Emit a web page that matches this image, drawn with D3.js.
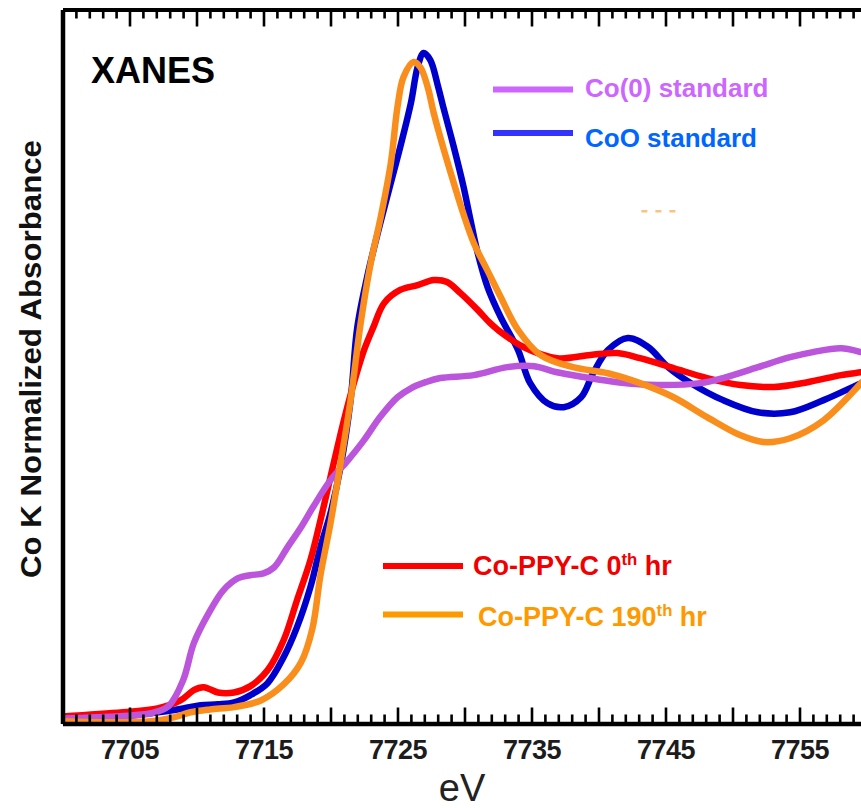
<!DOCTYPE html>
<html>
<head>
<meta charset="utf-8">
<script src="https://cdn.jsdelivr.net/npm/d3@7"></script>
<style>
  html, body { margin: 0; padding: 0; background: #fff; }
  svg { display: block; }
  text { font-family: "Liberation Sans", Arial, Helvetica, sans-serif; }
</style>
</head>
<body>
<svg id="chart" width="861" height="808"></svg>
<script>
// Co K-edge XANES spectra: [energy (eV), normalized absorbance]
const co0Standard = [
  [7700.0,0.006],[7704.3,0.013],[7706.6,0.022],[7707.9,0.044],[7709.0,0.125],[7709.8,0.241],
  [7710.9,0.334],[7712.0,0.406],[7713.1,0.444],[7714.0,0.453],[7715.0,0.459],[7715.8,0.478],
  [7716.8,0.541],[7717.8,0.603],[7718.7,0.666],[7720.0,0.750],[7721.3,0.812],[7722.5,0.875],
  [7723.7,0.947],[7725.0,1.009],[7726.0,1.037],[7727.1,1.056],[7728.2,1.069],[7730.7,1.078],
  [7733.2,1.103],[7735.2,1.106],[7736.9,1.087],[7738.9,1.072],[7741.4,1.056],[7744.4,1.047],
  [7747.6,1.053],[7749.3,1.069],[7751.9,1.103],[7754.3,1.134],[7756.0,1.150],[7758.1,1.162],
  [7759.6,1.150],[7760.0,1.146]
];
const cooStandard = [
  [7700.0,0.006],[7704.3,0.012],[7706.6,0.022],[7709.0,0.037],[7710.3,0.047],[7711.6,0.050],
  [7712.8,0.056],[7714.0,0.078],[7715.3,0.116],[7716.5,0.197],[7717.5,0.291],[7718.5,0.416],
  [7719.25,0.541],[7720.0,0.647],[7720.75,0.791],[7721.5,1.000],[7722.0,1.228],[7722.8,1.397],
  [7723.7,1.550],[7724.5,1.678],[7725.2,1.790],[7726.0,1.928],[7726.5,2.040],[7726.95,2.084],
  [7727.45,2.062],[7728.0,1.984],[7728.43,1.913],[7729.18,1.794],[7729.93,1.666],[7730.45,1.562],
  [7730.97,1.462],[7731.72,1.353],[7732.7,1.259],[7734.0,1.156],[7734.9,1.053],[7736.2,0.990],
  [7737.4,0.978],[7738.7,1.009],[7739.6,1.084],[7740.7,1.156],[7742.2,1.194],[7743.7,1.166],
  [7745.2,1.103],[7746.9,1.053],[7749.3,1.000],[7751.9,0.962],[7754.3,0.962],[7756.8,1.000],
  [7759.6,1.053],[7760.0,1.060]
];
const ppyc0hr = [
  [7700.0,0.012],[7704.5,0.025],[7707.1,0.037],[7708.8,0.062],[7709.8,0.094],[7710.5,0.103],
  [7711.0,0.097],[7711.6,0.087],[7712.8,0.087],[7714.0,0.106],[7715.3,0.156],[7716.5,0.250],
  [7717.5,0.375],[7718.5,0.500],[7719.25,0.625],[7720.0,0.760],[7721.0,0.937],[7721.7,1.047],
  [7722.5,1.156],[7723.2,1.228],[7724.0,1.303],[7725.2,1.344],[7726.5,1.359],[7727.7,1.375],
  [7728.7,1.369],[7729.7,1.334],[7731.0,1.281],[7731.9,1.241],[7732.5,1.219],[7734.4,1.166],
  [7736.9,1.131],[7739.4,1.141],[7741.4,1.147],[7743.1,1.131],[7745.6,1.100],[7748.1,1.069],
  [7750.6,1.047],[7753.1,1.041],[7755.6,1.056],[7758.1,1.078],[7759.6,1.087],[7760.0,1.090]
];
const ppyc190hr = [
  [7700.0,-0.003],[7703.4,-0.006],[7706.6,-0.003],[7708.3,0.009],[7709.55,0.025],[7711.0,0.034],
  [7712.8,0.041],[7714.8,0.062],[7716.5,0.112],[7717.8,0.181],[7718.65,0.287],[7719.25,0.453],
  [7720.0,0.616],[7720.75,0.803],[7721.5,1.000],[7722.25,1.240],[7723.0,1.428],[7723.7,1.562],
  [7724.5,1.740],[7725.0,1.916],[7725.45,2.009],[7726.2,2.056],[7726.7,2.040],[7727.25,1.978],
  [7727.7,1.897],[7728.4,1.790],[7729.2,1.678],[7729.9,1.584],[7730.7,1.490],[7731.7,1.406],
  [7732.7,1.322],[7734.0,1.219],[7735.7,1.140],[7738.1,1.103],[7740.7,1.084],[7743.1,1.053],
  [7745.6,1.009],[7748.1,0.947],[7750.6,0.890],[7752.3,0.869],[7754.3,0.881],[7756.8,0.937],
  [7759.6,1.053],[7760.0,1.070]
];
// faint dashed trace segment in the upper-right area
const faintTrace = [[7743.2,1.59],[7746.0,1.59]];

// axis ticks
const xMajorTicks = [7700,7705,7710,7715,7720,7725,7730,7735,7740,7745,7750,7755,7760];
const xLabelTicks = [7705,7715,7725,7735,7745,7755];
const xMinorTicks = d3.range(7700, 7761).filter(v => v % 5 !== 0);

const seriesNames = ["Co(0) standard", "CoO standard", "Co-PPY-C 0th hr", "Co-PPY-C 190th hr"];

const svg = d3.select("#chart");
svg.append("rect").attr("width", 861).attr("height", 808).attr("fill", "#fff");

const plotLeft = 62.5, plotTop = 9.5, plotBottom = 723.5;
const x = d3.scaleLinear().domain([7700, 7760]).range([plotLeft, plotLeft + 60 * 13.4]);
const y = d3.scaleLinear().domain([-0.01, 2.22]).range([plotBottom, plotTop]);

const spectrumLine = d3.line()
  .x(d => x(d[0]))
  .y(d => y(d[1]))
  .curve(d3.curveCatmullRom.alpha(0.5));

const plot = svg.append("g");

const curves = [
  { data: cooStandard, color: "#0000CC", width: 6.5 },
  { data: ppyc0hr,     color: "#FF0000", width: 6.5 },
  { data: co0Standard, color: "#BB55DB", width: 6.5 },
  { data: ppyc190hr,   color: "#F98E1D", width: 6.5 }
];
curves.forEach(c => {
  plot.append("path")
    .attr("d", spectrumLine(c.data))
    .attr("fill", "none")
    .attr("stroke", c.color)
    .attr("stroke-width", c.width)
    .attr("stroke-linejoin", "round")
    .attr("stroke-linecap", "butt");
});

plot.append("path")
  .attr("d", d3.line().x(d => x(d[0])).y(d => y(d[1]))(faintTrace))
  .attr("fill", "none")
  .attr("stroke", "#F4C585")
  .attr("stroke-width", 2.5)
  .attr("stroke-dasharray", "6,8");

// axes: domain lines and tick labels
function styleAxis(g, width) {
  g.select(".domain").attr("stroke", "#000").attr("stroke-width", width);
}

const xBottom = svg.append("g")
  .attr("transform", `translate(0,${plotBottom})`)
  .call(d3.axisBottom(x).tickValues(xLabelTicks).tickSize(0).tickPadding(16)
    .tickFormat(d3.format("d")));
styleAxis(xBottom, 4.5);
xBottom.selectAll(".tick text")
  .attr("font-size", 27).attr("font-weight", "bold").attr("fill", "#1c1c1c")
  .attr("letter-spacing", -0.5)
  .style("font-family", "'Liberation Sans', Arial, sans-serif");

const xTop = svg.append("g")
  .attr("transform", `translate(0,${plotTop})`)
  .call(d3.axisTop(x).tickValues([]).tickSizeOuter(0));
styleAxis(xTop, 4);

const yLeft = svg.append("g")
  .attr("transform", `translate(${plotLeft},0)`)
  .call(d3.axisLeft(y).tickValues([]).tickSizeOuter(0));
styleAxis(yLeft, 4.5);

// axis titles
svg.append("text")
  .attr("x", 462).attr("y", 801)
  .attr("text-anchor", "middle")
  .attr("font-size", 38)
  .attr("fill", "#222")
  .text("eV");

svg.append("text")
  .attr("transform", "translate(41,359) rotate(-90)")
  .attr("text-anchor", "middle")
  .attr("font-size", 30)
  .attr("font-weight", "bold")
  .attr("fill", "#111")
  .attr("textLength", 438)
  .attr("lengthAdjust", "spacingAndGlyphs")
  .text("Co K Normalized Absorbance");

svg.append("text")
  .attr("x", 91).attr("y", 83)
  .attr("font-size", 36)
  .attr("font-weight", "bold")
  .attr("fill", "#000")
  .text("XANES");

// legends
const legendItems = [
  { name: seriesNames[0], lineColor: "#CC66FF", textColor: "#CC66FF", x1: 493, x2: 573, ly: 89.5, tx: 585, ty: 97, size: 26 },
  { name: seriesNames[1], lineColor: "#3333FF", textColor: "#0066FF", x1: 493, x2: 573, ly: 133, tx: 585, ty: 147, size: 26 },
  { name: seriesNames[2], lineColor: "#FF0000", textColor: "#F00000", x1: 383, x2: 463, ly: 566, tx: 473, ty: 575, size: 27 },
  { name: seriesNames[3], lineColor: "#FF9900", textColor: "#FF9900", x1: 383, x2: 463, ly: 614.5, tx: 478, ty: 626, size: 27 }
];
const legend = svg.append("g");
legendItems.forEach(it => {
  legend.append("line")
    .attr("x1", it.x1).attr("x2", it.x2)
    .attr("y1", it.ly).attr("y2", it.ly)
    .attr("stroke", it.lineColor).attr("stroke-width", 6);
  const t = legend.append("text")
    .attr("x", it.tx).attr("y", it.ty)
    .attr("font-size", it.size)
    .attr("font-weight", "bold")
    .attr("fill", it.textColor);
  const m = it.name.match(/^(.*\d)(th)( hr)$/);
  if (m) {
    t.append("tspan").text(m[1]);
    t.append("tspan").attr("font-size", it.size * 0.62).attr("dy", -it.size * 0.38).text(m[2]);
    t.append("tspan").attr("dy", it.size * 0.38).text(m[3]);
  } else {
    t.text(it.name);
  }
});

// inward tick marks on the top and bottom edges, drawn last as one path each
function tickPath(values, yBase, len) {
  return values
    .filter(v => x(v) > plotLeft + 1)
    .map(v => `M${x(v) + 0.5},${yBase}V${yBase + len}`)
    .join("");
}
svg.append("path")
  .attr("d", tickPath(xMajorTicks, plotBottom, -16) + tickPath(xMinorTicks, plotBottom, -9) +
             tickPath(xMajorTicks, plotTop, 17) + tickPath(xMinorTicks, plotTop, 9))
  .attr("fill", "none")
  .attr("stroke", "#000")
  .attr("stroke-width", 2.6);
</script>
</body>
</html>
